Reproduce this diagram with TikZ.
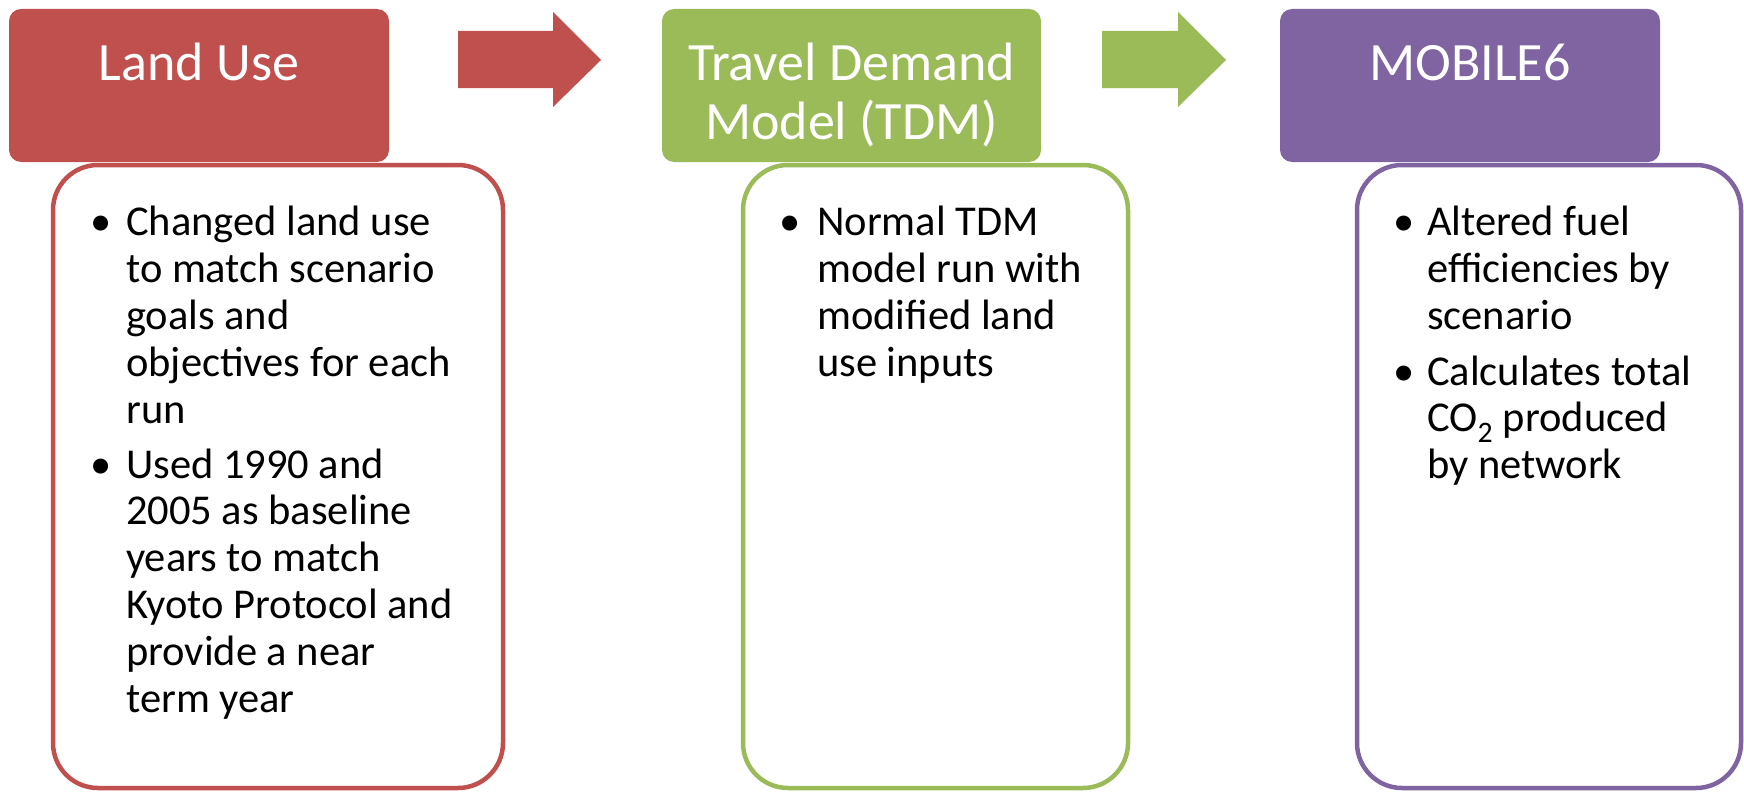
\documentclass[tikz,border=0pt]{standalone}
\usepackage{fontspec}
\setmainfont{Carlito}
\definecolor{cred}{HTML}{C0504D}
\definecolor{cgreen}{HTML}{9BBB59}
\definecolor{cpurple}{HTML}{8064A2}
\begin{document}
\begin{tikzpicture}[x=1pt,y=-1pt,
  headbox/.style={fill=#1, draw=none, rounded corners=12pt, inner sep=0pt, minimum height=153pt},
  detailbox/.style={draw=#1, fill=white, line width=4.5pt, rounded corners=45pt, inner sep=0pt, minimum height=623pt},
  htext/.style={text=white, font=\fontsize{54}{58}\selectfont, anchor=base, inner sep=0pt},
  btext/.style={font=\fontsize{42.5}{47}\selectfont, anchor=base west, inner sep=0pt},
  bul/.style={font=\fontsize{42.5}{47}\selectfont, anchor=base, inner sep=0pt},
  blockarrow/.style={fill=#1, draw=none}]
\useasboundingbox (0,0) rectangle (1744,792);

% detail boxes
\node[detailbox=cred, minimum width=450pt] (rd) at (278,476.5) {};
\node[detailbox=cgreen, minimum width=385pt] (gd) at (935.5,476.5) {};
\node[detailbox=cpurple, minimum width=384pt] (pd) at (1549,476.5) {};

% header boxes
\node[headbox=cred, minimum width=380pt] (rh) at (199,85.5) {};
\node[headbox=cgreen, minimum width=379pt] (gh) at (851.5,85.5) {};
\node[headbox=cpurple, minimum width=380pt] (ph) at (1470,85.5) {};

% header texts
\node[htext] (rht) at (199,81) {Land Use};
\node[htext] (ght1) at (851.5,81) {Travel Demand};
\node[htext] (ght2) at (851.5,139) {Model (TDM)};
\node[htext] (pht) at (1470,81) {MOBILE6};

% block arrows
\fill[blockarrow=cred] (458,31) -- (553,31) -- (553,12) -- (601,60) -- (553,107) -- (553,88) -- (458,88) -- cycle;
\fill[blockarrow=cgreen] (1102,31) -- (1178,31) -- (1178,12) -- (1226,60) -- (1178,107) -- (1178,88) -- (1102,88) -- cycle;

% red body
\node[bul] (rb1) at (101,235) {•};
\foreach \t [count=\i] in {Changed land use, to match scenario, goals and, objectives for each, run}
  \node[btext] (ra\i) at (126,{235+47*(\i-1)}) {\t};
\node[bul] (rb2) at (101,478) {•};
\foreach \t [count=\i] in {Used 1990 and, 2005 as baseline, years to match, Kyoto Protocol and, provide a near, term year}
  \node[btext] (rc\i) at (126,{478+46.8*(\i-1)}) {\t};

% green body
\node[bul] (gb1) at (790,235) {•};
\foreach \t [count=\i] in {Normal TDM, model run with, modified land, use inputs}
  \node[btext] (ga\i) at (817,{235+47*(\i-1)}) {\t};

% purple body
\node[bul] (pb1) at (1404,235) {•};
\foreach \t [count=\i] in {Altered fuel, efficiencies by, scenario}
  \node[btext] (pa\i) at (1427,{235+47*(\i-1)}) {\t};
\node[bul] (pb2) at (1404,385) {•};
\node[btext] (pc1) at (1427,385) {Calculates total};
\node[btext] (pc2) at (1427,431.5) {CO\textsubscript{2} produced};
\node[btext] (pc3) at (1427,478) {by network};
\end{tikzpicture}
\end{document}
